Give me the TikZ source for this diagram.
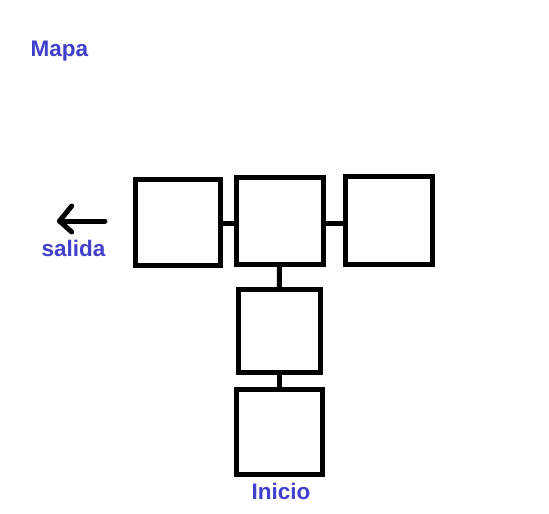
\documentclass[tikz,border=0pt]{standalone}
\usepackage{fontspec}
\setmainfont{Liberation Sans}
\usetikzlibrary{arrows.meta}
\definecolor{lblblue}{RGB}{64,64,204}
\tikzset{
  room/.style={draw=black, line width=5pt, inner sep=0pt, outer sep=0pt},
  link/.style={draw=black, line width=5pt},
  lbl/.style={text=lblblue, font=\fontsize{22.5}{27}\selectfont\bfseries, inner sep=0pt, anchor=base},
}
\begin{document}
\begin{tikzpicture}[x=1pt, y=-1pt]
\useasboundingbox[fill=white] (0,0) rectangle (549,514);
% rooms
\node[room, minimum width=85pt, minimum height=86pt] (b1) at (178,222) {};
\node[room, minimum width=87pt, minimum height=87pt] (b2) at (279.5,221) {};
\node[room, minimum width=86.5pt, minimum height=88pt] (b3) at (388.75,220.5) {};
\node[room, minimum width=82.5pt, minimum height=82.5pt] (b4) at (279.25,330.75) {};
\node[room, minimum width=85.5pt, minimum height=85pt] (b5) at (279.25,431.5) {};
% connectors
\coordinate (c12) at (220.5,223);
\coordinate (c23) at (323,223);
\draw[link] (c12) -- (c12 -| b2.west);
\draw[link] (c23) -- (c23 -| b3.west);
\draw[link] (b2.south) -- (b4.north);
\draw[link] (b4.south) -- (b5.north);
% exit arrow
\coordinate (ea) at (105,221);
\coordinate (eb) at (59.5,221);
\draw[link, line cap=round, line join=round] (ea) -- (eb);
\draw[link, line cap=round, line join=round] (71.7,206) -- (eb) -- (71.7,232);
% labels
\node[lbl] (mapa) at (59.5,56) {Mapa};
\node[lbl] (salida) at (73.5,256) {salida};
\node[lbl] (inicio) at (281,499.3) {Inicio};
\end{tikzpicture}
\end{document}
